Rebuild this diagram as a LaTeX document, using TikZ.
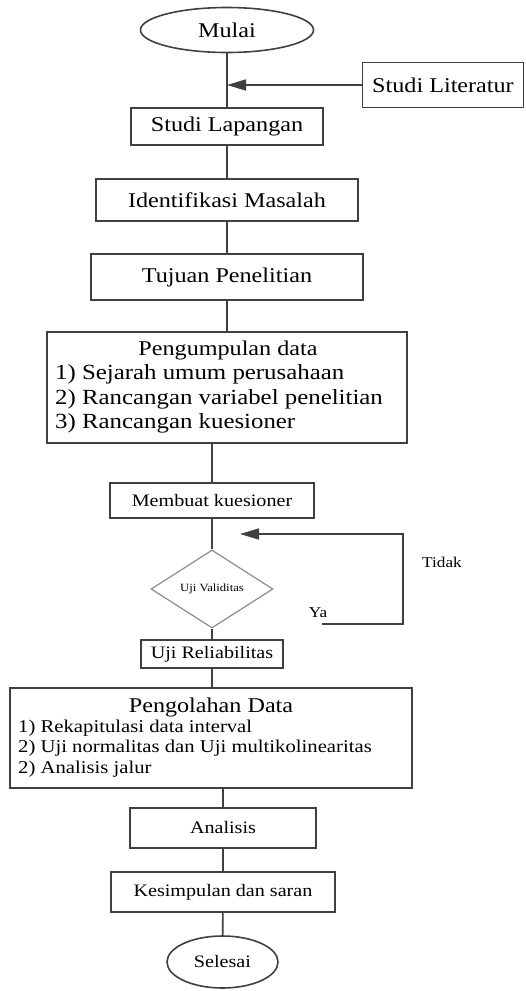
\documentclass[tikz,border=0pt]{standalone}
\usepackage{fontspec}
\setmainfont{Liberation Serif}[FakeStretch=1.15]
\usepackage{tikz}
\usetikzlibrary{arrows.meta}
\usetikzlibrary{shapes.geometric}
\definecolor{garis}{gray}{0.25}
\newcommand{\besar}{\fontsize{21}{24.5}\selectfont}
\newcommand{\daftar}{\fontsize{21.6}{24.5}\selectfont}
\newcommand{\sedang}{\fontsize{17.5}{20.5}\selectfont}
\newcommand{\rincian}{\fontsize{18}{20.5}\selectfont}
\newcommand{\kecil}{\fontsize{11}{13}\selectfont}
\newcommand{\keterangan}{\fontsize{15}{17}\selectfont}
\tikzstyle{every node}=[inner sep=0pt]
\tikzset{kotak/.style={rectangle, draw=garis, line width=1.6pt},
  oval/.style={ellipse, draw=garis, line width=1.6pt},
  belah/.style={diamond, draw=black!45, line width=1.2pt},
  alur/.style={draw=garis, line width=1.6pt},
  panah/.style={alur, -{Triangle[length=19pt,width=11pt]}}}

\begin{document}
\begin{tikzpicture}[x=1pt, y=-1pt]
		\useasboundingbox (0,0) rectangle (525,991);
		\node[oval, minimum width=173pt, minimum height=45pt] (mulai) at (227,30) {\besar Mulai};
		\node[kotak, minimum width=161pt, minimum height=45pt] (literatur) at (443,85) {\besar Studi Literatur};
		\node[kotak, minimum width=192pt, minimum height=37pt] (lapangan) at (227,126.5) {\besar Studi Lapangan};
		\node[kotak, minimum width=262pt, minimum height=42pt] (identifikasi) at (227,200) {\besar Identifikasi Masalah};
		\node[kotak, minimum width=272pt, minimum height=46pt] (tujuan) at (227,277) {\besar Tujuan Penelitian};
		\node[kotak, minimum width=360pt, minimum height=111pt] (pengumpulan) at (227,387.5) {};
		\node (judulkumpul) at (228,350) {\besar Pengumpulan data};
		\node[font=\daftar, align=left, anchor=west] (isikumpul) at (55,399) {1) Sejarah umum perusahaan\\2) Rancangan variabel penelitian\\3) Rancangan kuesioner};
		\node[kotak, minimum width=204pt, minimum height=35pt] (kuesioner) at (212,500.5) {\sedang Membuat kuesioner};
		\node[belah, minimum width=122pt, minimum height=78pt] (validitas) at (212,589) {\kecil Uji Validitas};
		\node[kotak, minimum width=142pt, minimum height=28pt] (reliabilitas) at (212,654) {\sedang Uji Reliabilitas};
		\node[kotak, minimum width=402pt, minimum height=100pt] (pengolahan) at (211,738) {};
		\node (judulolah) at (211,707) {\besar Pengolahan Data};
		\node[font=\rincian, align=left, anchor=west] (isiolah) at (18,748.5) {1) Rekapitulasi data interval\\2) Uji normalitas dan Uji multikolinearitas\\2) Analisis jalur};
		\node[kotak, minimum width=186pt, minimum height=40pt] (analisis) at (223,828) {\sedang Analisis};
		\node[kotak, minimum width=224pt, minimum height=40pt] (kesimpulan) at (223,892) {\sedang Kesimpulan dan saran};
		\node[oval, minimum width=111pt, minimum height=52pt] (selesai) at (222.5,962) {\sedang Selesai};
		\node (tidak) at (442,562) {\keterangan Tidak};
		\node (ya) at (318,613) {\keterangan Ya};
		\coordinate (ujungya) at (322,624);
		\coordinate (balik) at (240,534);

		\draw[alur] (mulai) -- (lapangan);
		\draw[panah] (literatur.west) -- (literatur.west -| mulai.south);
		\draw[alur] (lapangan) -- (identifikasi);
		\draw[alur] (identifikasi) -- (tujuan);
		\draw[alur] (tujuan) -- (pengumpulan);
		\draw[alur] (kuesioner.north |- pengumpulan.south) -- (kuesioner.north);
		\draw[alur] (kuesioner) -- (validitas);
		\draw[alur] (validitas) -- (reliabilitas);
		\draw[alur] (reliabilitas) -- (pengolahan.north -| reliabilitas.south);
		\draw[alur] (analisis.north |- pengolahan.south) -- (analisis.north);
		\draw[alur] (analisis) -- (kesimpulan);
		\draw[alur] (kesimpulan) -- (selesai);
		\draw[panah] (ujungya) -- (403,624) |- (balik);
		\end{tikzpicture}
\end{document}
